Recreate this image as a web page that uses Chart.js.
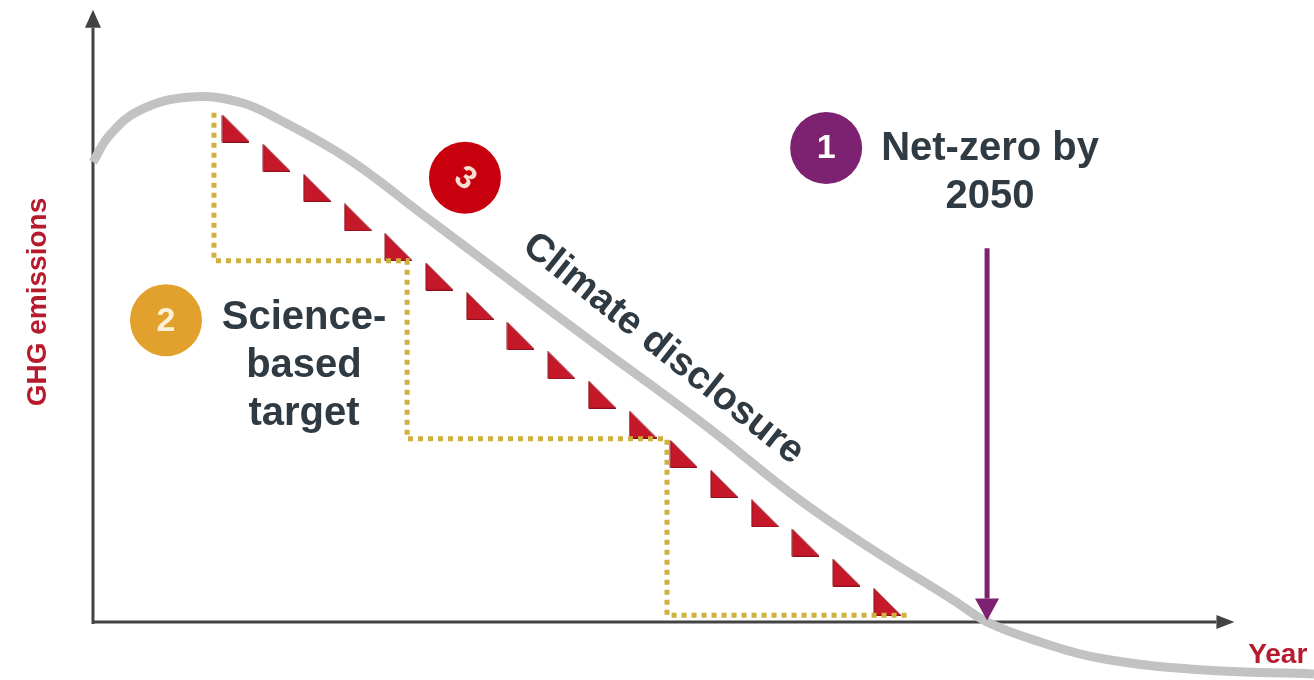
<!DOCTYPE html>
<html>
<head>
<meta charset="utf-8">
<title>GHG emissions pathway</title>
<script src="https://cdn.jsdelivr.net/npm/chart.js@4.4.0/dist/chart.umd.min.js"></script>
<style>
  html, body { margin: 0; padding: 0; background: #ffffff; }
  #grafico { display: block; }
</style>
</head>
<body>
<canvas id="grafico" width="1314" height="680"></canvas>
<script>
// Emissions pathway (gray curve)
var curveYears = [2020.0, 2020.57, 2021.58, 2023.26, 2024.93, 2026.28, 2028.62, 2030.97, 2033.66, 2036.78, 2040.37, 2043.72, 2046.07, 2048.86, 2050.0, 2051.78, 2053.79, 2057.15, 2060.97];
var curveEmissions = [87.6, 92.8, 97.5, 100.0, 99.0, 95.6, 88.0, 78.0, 66.5, 53.2, 38.2, 23.2, 14.1, 4.2, 0.0, -3.8, -6.9, -9.1, -9.9];

// Climate disclosure markers (red triangles)
var markerYears = [2024.78, 2026.15, 2027.51, 2028.88, 2030.24, 2031.61, 2032.98, 2034.34, 2035.71, 2037.07, 2038.44, 2039.81, 2041.17, 2042.54, 2043.90, 2045.27, 2046.64];
var markerEmissions = [94.0, 88.4, 82.7, 77.1, 71.4, 65.8, 60.2, 54.5, 48.9, 43.3, 37.6, 32.0, 26.3, 20.7, 15.1, 9.4, 3.8];

// Science-based target steps (dotted)
var stepYears = [2024.06, 2024.06, 2030.54, 2030.54, 2039.26, 2039.26, 2047.38];
var stepEmissions = [97.0, 68.8, 68.8, 34.9, 34.9, 1.3, 1.3];

// Numbered badges
var badgeNumbers = ["1", "2", "3"];
var badgeYears = [2044.60, 2022.45, 2032.48];
var badgeEmissions = [90.3, 57.5, 84.6];
var badgeColors = ["#7d2271", "#e2a12d", "#c8000e"];

// Labels
var netZeroYear = 2050;
var netZeroLabel = ["Net-zero by", "2050"];
var targetLabel = ["Science-", "based", "target"];
var disclosureLabel = "Climate disclosure";
var yAxisTitle = "GHG emissions";
var xAxisTitle = "Year";

// Axis extents
var yearMin = 2016.88, yearMax = 2060.97, yearAxisEnd = 2058.3;
var emissionsMin = -11.05, emissionsMax = 118.48, emissionsAxisEnd = 116.6;

function puntos(xs, ys) {
    return xs.map(function (x, i) { return { x: x, y: ys[i] }; });
}

// Right-angled triangle used as point style
function crearTriangulo() {
    var c = document.createElement("canvas");
    c.width = 28;
    c.height = 28;
    var t = c.getContext("2d");
    t.beginPath();
    t.moveTo(1, 0.5);
    t.lineTo(1, 27.5);
    t.lineTo(28, 27.5);
    t.closePath();
    t.fillStyle = "#c5192a";
    t.fill();
    t.strokeStyle = "#8e0f1d";
    t.lineWidth = 1;
    t.stroke();
    return c;
}

function flecha(ctx, x1, y1, x2, y2, color, ancho, punta, mitad) {
    var ang = Math.atan2(y2 - y1, x2 - x1);
    var bx = x2 - Math.cos(ang) * punta;
    var by = y2 - Math.sin(ang) * punta;
    ctx.strokeStyle = color;
    ctx.lineWidth = ancho;
    ctx.beginPath();
    ctx.moveTo(x1, y1);
    ctx.lineTo(bx, by);
    ctx.stroke();
    ctx.fillStyle = color;
    ctx.beginPath();
    ctx.moveTo(x2, y2);
    ctx.lineTo(bx + Math.sin(ang) * mitad, by - Math.cos(ang) * mitad);
    ctx.lineTo(bx - Math.sin(ang) * mitad, by + Math.cos(ang) * mitad);
    ctx.closePath();
    ctx.fill();
}

function lineas(ctx, textos, x, y, alto) {
    textos.forEach(function (t, i) {
        ctx.fillText(t, x, y + i * alto);
    });
}

var fuente = '"Liberation Sans", Arial, sans-serif';

var diagrama = {
    id: "diagrama",
    beforeDatasetsDraw: function (chart) {
        var ctx = chart.ctx;
        var sx = chart.scales.x, sy = chart.scales.y;
        var x0 = sx.getPixelForValue(2020), y0 = sy.getPixelForValue(0);
        ctx.save();
        flecha(ctx, x0, y0 + 2, x0, sy.getPixelForValue(emissionsAxisEnd), "#434343", 3, 18, 8);
        flecha(ctx, x0 - 1, y0, sx.getPixelForValue(yearAxisEnd), y0, "#434343", 3, 18, 7);
        ctx.restore();
    },
    afterDatasetsDraw: function (chart) {
        var ctx = chart.ctx;
        var sx = chart.scales.x, sy = chart.scales.y;
        ctx.save();

        // Net-zero arrow
        var xa = sx.getPixelForValue(netZeroYear);
        flecha(ctx, xa, sy.getPixelForValue(71.2), xa, sy.getPixelForValue(0.3), "#7d2271", 5, 22, 12);

        // Badge numbers
        ctx.textAlign = "center";
        ctx.textBaseline = "middle";
        badgeNumbers.forEach(function (n, i) {
            var bx = sx.getPixelForValue(badgeYears[i]);
            var by = sy.getPixelForValue(badgeEmissions[i]);
            ctx.save();
            ctx.translate(bx, by + 1);
            if (n === "3") {
                ctx.rotate(38 * Math.PI / 180);
                ctx.fillStyle = "#f8dfd2";
                ctx.font = "bold 32px " + fuente;
            } else {
                ctx.fillStyle = n === "2" ? "#fdf0d8" : "#ffffff";
                ctx.font = "bold 34px " + fuente;
            }
            ctx.fillText(n, 0, 0);
            ctx.restore();
        });

        // Text labels
        ctx.fillStyle = "#2f3a42";
        ctx.font = "bold 40px " + fuente;
        ctx.textBaseline = "alphabetic";
        lineas(ctx, netZeroLabel, sx.getPixelForValue(2050.1), sy.getPixelForValue(88.0), 48);
        lineas(ctx, targetLabel, sx.getPixelForValue(2027.08), sy.getPixelForValue(55.8), 48);

        ctx.save();
        ctx.translate(sx.getPixelForValue(2039.13), sy.getPixelForValue(52.0));
        ctx.rotate(38.5 * Math.PI / 180);
        ctx.font = "bold 39px " + fuente;
        ctx.textBaseline = "middle";
        ctx.fillText(disclosureLabel, 0, 0);
        ctx.restore();

        // Axis titles
        ctx.fillStyle = "#b51b2c";
        ctx.font = "bold 28px " + fuente;
        ctx.save();
        ctx.translate(sx.getPixelForValue(2018.15), sy.getPixelForValue(60.95));
        ctx.rotate(-Math.PI / 2);
        ctx.textBaseline = "middle";
        ctx.fillText(yAxisTitle, 0, 0);
        ctx.restore();
        ctx.textAlign = "left";
        ctx.fillText(xAxisTitle, sx.getPixelForValue(2058.76), sy.getPixelForValue(-7.81));

        ctx.restore();
    }
};

var ctx = document.getElementById("grafico").getContext("2d");
var myChart = new Chart(ctx, {
    type: "line",
    data: {
        datasets: [
            {
                label: "badges",
                data: puntos(badgeYears, badgeEmissions),
                showLine: false,
                pointRadius: 36,
                pointBackgroundColor: badgeColors,
                pointBorderWidth: 0,
                order: 0
            },
            {
                label: "pathway",
                data: puntos(curveYears, curveEmissions),
                borderColor: "#c2c2c2",
                borderWidth: 9,
                tension: 0.4,
                pointRadius: 0,
                order: 1
            },
            {
                label: "target",
                data: puntos(stepYears, stepEmissions),
                borderColor: "#d0b03e",
                borderWidth: 5,
                borderDash: [5, 5],
                tension: 0,
                pointRadius: 0,
                order: 2
            },
            {
                label: "disclosure",
                data: puntos(markerYears, markerEmissions),
                showLine: false,
                pointStyle: crearTriangulo(),
                pointRadius: 14,
                order: 3
            }
        ]
    },
    options: {
        responsive: false,
        animation: false,
        events: [],
        layout: { padding: 0, autoPadding: false },
        scales: {
            x: { type: "linear", min: yearMin, max: yearMax, display: false },
            y: { type: "linear", min: emissionsMin, max: emissionsMax, display: false }
        },
        plugins: {
            legend: { display: false },
            tooltip: { enabled: false }
        }
    },
    plugins: [diagrama]
});
</script>
</body>
</html>
